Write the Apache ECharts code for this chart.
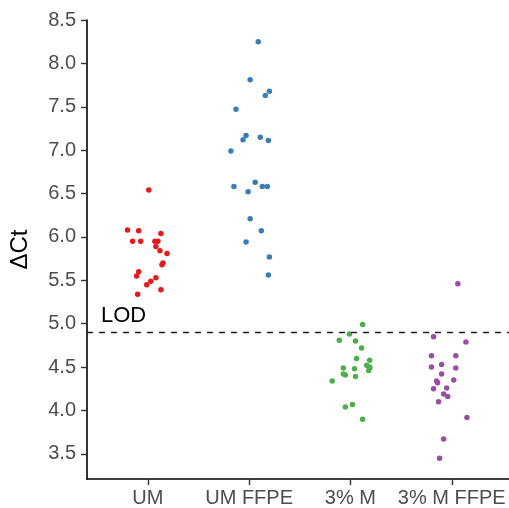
<!DOCTYPE html>
<html>
<head>
<meta charset="utf-8">
<script src="https://cdn.jsdelivr.net/npm/echarts@6/dist/echarts.min.js"></script>
<style>
  html, body { margin: 0; padding: 0; background: #fff; }
  #chart { width: 509px; height: 508px; }
</style>
</head>
<body>
<div id="chart"></div>
<script>
// groups on the x axis
const categories = ['UM', 'UM FFPE', '3% M', '3% M FFPE'];
const colors = ['#E41A1C', '#377EB8', '#4DAF4A', '#984EA3'];
const lod = 4.9;

// ΔCt values
const umValues = [6.54, 6.08, 6.07, 6.04, 5.95, 5.95, 5.95, 5.95, 5.89, 5.84,
  5.81, 5.70, 5.68, 5.60, 5.55, 5.53, 5.49, 5.45, 5.39, 5.34];
const umFfpeValues = [8.25, 7.81, 7.68, 7.63, 7.47, 7.17, 7.12, 7.15, 7.11, 6.99,
  6.58, 6.63, 6.52, 6.58, 6.58, 6.21, 6.07, 5.94, 5.77, 5.56];
const m3Values = [4.99, 4.88, 4.81, 4.80, 4.72, 4.60, 4.58, 4.52, 4.50, 4.49,
  4.48, 4.46, 4.42, 4.41, 4.39, 4.34, 4.07, 4.04, 3.90, 4.49];
const m3FfpeValues = [5.46, 4.85, 4.79, 4.63, 4.63, 4.50, 4.53, 4.49, 4.42, 4.34,
  4.32, 4.35, 4.25, 4.26, 4.19, 4.16, 4.10, 3.92, 3.67, 3.45];

// horizontal jitter of each point (in category units)
const umJitter = [0.01, -0.20, -0.09, 0.13, -0.15, -0.07, 0.07, 0.10, 0.08, 0.12,
  0.19, 0.15, 0.14, -0.09, -0.11, 0.08, 0.03, -0.01, 0.13, -0.10];
const umFfpeJitter = [0.09, 0.01, 0.20, 0.16, -0.13, -0.03, -0.06, 0.11, 0.19, -0.18,
  -0.15, 0.06, -0.01, 0.13, 0.18, 0.01, 0.12, -0.03, 0.20, 0.19];
const m3Jitter = [0.12, -0.01, -0.11, 0.05, 0.11, 0.06, 0.19, 0.16, 0.19, -0.07,
  0.04, 0.18, -0.07, -0.05, 0.05, -0.18, 0.02, -0.05, 0.12, 0.19];
const m3FfpeJitter = [0.06, -0.18, 0.14, -0.20, 0.04, -0.20, -0.10, 0.04, -0.10, -0.15,
  -0.14, 0.02, -0.18, -0.05, -0.08, -0.04, -0.13, 0.15, -0.08, -0.12];

const yTicks = [3.5, 4.0, 4.5, 5.0, 5.5, 6.0, 6.5, 7.0, 7.5, 8.0, 8.5];
const xTicks = [1, 2, 3, 4];

const groups = [
  [umValues, umJitter],
  [umFfpeValues, umFfpeJitter],
  [m3Values, m3Jitter],
  [m3FfpeValues, m3FfpeJitter]
];

const font = 'Liberation Sans, Arial, Helvetica, sans-serif';

const series = groups.map(([vals, jit], i) => ({
  type: 'scatter',
  name: categories[i],
  symbolSize: 5.5,
  itemStyle: { color: colors[i], opacity: 1 },
  data: vals.map((v, k) => [i + 1 + jit[k], v])
}));

series[0].markLine = {
  silent: true,
  symbol: 'none',
  lineStyle: { color: '#222', width: 1.3, type: [6, 6] },
  label: {
    show: true,
    position: 'insideStartTop',
    formatter: 'LOD',
    fontSize: 22,
    fontFamily: font,
    color: '#000',
    distance: [14, 5]
  },
  emphasis: { disabled: true },
  data: [{ yAxis: lod }]
};

const chart = echarts.init(document.getElementById('chart'), null, { renderer: 'canvas' });
chart.setOption({
  animation: false,
  backgroundColor: '#fff',
  grid: { left: 83, right: 0, top: 20, bottom: 28, containLabel: false },
  xAxis: {
    type: 'value',
    min: 0.4,
    max: 4.565,
    splitLine: { show: false },
    axisLine: { show: true, lineStyle: { color: '#000', width: 1.6 } },
    axisTick: { show: true, customValues: xTicks, length: 6, lineStyle: { color: '#333', width: 1.4 } },
    axisLabel: {
      customValues: xTicks,
      formatter: v => categories[Math.round(v) - 1] || '',
      fontSize: 20,
      fontFamily: font,
      color: '#4D4D4D',
      margin: 9
    }
  },
  yAxis: {
    type: 'value',
    min: 3.21,
    max: 8.5,
    name: 'ΔCt',
    nameLocation: 'middle',
    nameGap: 55,
    nameTextStyle: { fontSize: 24, fontFamily: font, color: '#000' },
    splitLine: { show: false },
    axisLine: { show: true, lineStyle: { color: '#000', width: 1.6 } },
    axisTick: { show: true, customValues: yTicks, length: 6, lineStyle: { color: '#333', width: 1.4 } },
    axisLabel: {
      customValues: yTicks,
      formatter: v => v.toFixed(1),
      fontSize: 20,
      fontFamily: font,
      color: '#4D4D4D',
      margin: 11
    }
  },
  series: series
});
</script>
</body>
</html>
